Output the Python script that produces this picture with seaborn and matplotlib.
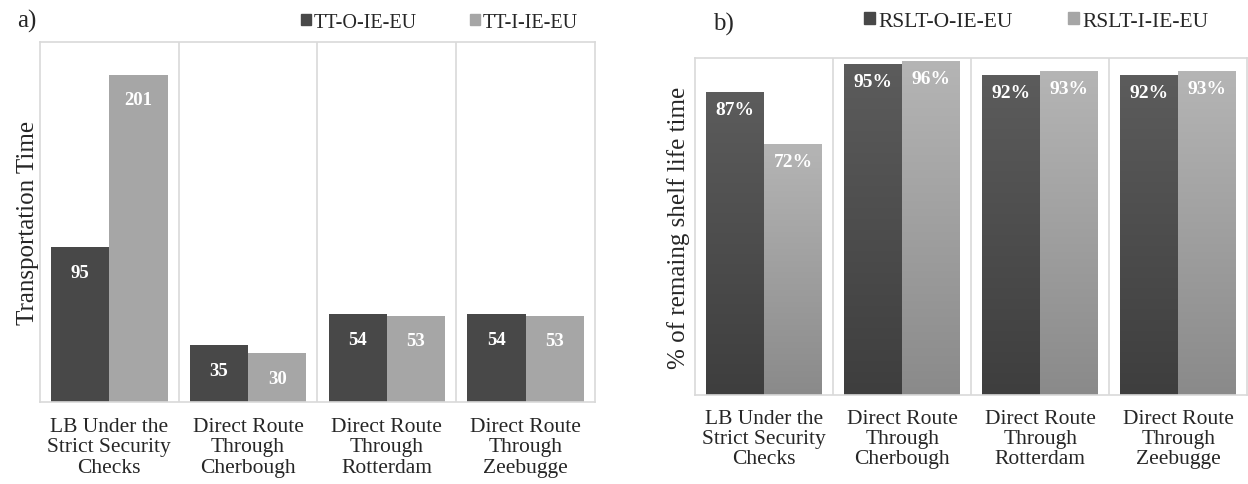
import numpy as np
import pandas as pd
import matplotlib
matplotlib.use('Agg')
import matplotlib.pyplot as plt
import seaborn as sns
from matplotlib.patches import Patch
from matplotlib.colors import LinearSegmentedColormap

sns.set_style('white')
plt.rcParams['font.family'] = ['Liberation Serif', 'DejaVu Serif']

# data
routes = ['LB Under the\nStrict Security\nChecks',
          'Direct Route\nThrough\nCherbough',
          'Direct Route\nThrough\nRotterdam',
          'Direct Route\nThrough\nZeebugge']
tt_series = ['TT-O-IE-EU', 'TT-I-IE-EU']
tt_out = [95, 35, 54, 54]
tt_in = [201, 30, 53, 53]
rslt_series = ['RSLT-O-IE-EU', 'RSLT-I-IE-EU']
rslt_out = [87, 95, 92, 92]
rslt_in = [72, 96, 93, 93]

df_tt = pd.DataFrame({
    'route': routes * 2,
    'series': [tt_series[0]] * 4 + [tt_series[1]] * 4,
    'value': tt_out + tt_in,
})
df_rslt = pd.DataFrame({
    'route': routes * 2,
    'series': [rslt_series[0]] * 4 + [rslt_series[1]] * 4,
    'value': rslt_out + rslt_in,
})

dark = '#484848'
light = '#a6a6a6'
grid_col = '#d9d9d9'

fig = plt.figure(figsize=(12.48, 4.85), dpi=100)
ax1 = fig.add_axes([0.032, 0.169, 0.4447, 0.742])
ax2 = fig.add_axes([0.557, 0.1835, 0.4423, 0.695])


def style_axes(ax, ylab, pad, tpad):
    ax.set_xlim(-0.5, 3.5)
    ax.set_xlabel('')
    ax.set_ylabel(ylab, fontsize=18, labelpad=pad)
    ax.set_yticks([])
    ax.tick_params(axis='x', length=0, labelsize=15.5, pad=tpad)
    for lab in ax.get_xticklabels():
        lab.set_linespacing(1.08)
    for s in ax.spines.values():
        s.set_color(grid_col)
        s.set_linewidth(1.2)
    for xv in [0.5, 1.5, 2.5]:
        ax.axvline(xv, color=grid_col, lw=1.2, zorder=0)


# a) transportation time
sns.barplot(data=df_tt, x='route', y='value', hue='series', ax=ax1,
            palette=[dark, light], width=0.84, saturation=1, legend=False,
            linewidth=0, edgecolor='none')
ax1.set_ylim(0, 221)
style_axes(ax1, 'Transportation Time', 1, 11)
for cont in ax1.containers:
    for bar, v in zip(cont, cont.datavalues):
        ax1.annotate(f'{v:.0f}', (bar.get_x() + bar.get_width() / 2, bar.get_height()),
                     xytext=(0, -12), textcoords='offset points', ha='center', va='top',
                     color='white', fontweight='bold', fontsize=13.5)

# b) remaining shelf life
sns.barplot(data=df_rslt, x='route', y='value', hue='series', ax=ax2,
            palette=[dark, light], width=0.84, saturation=1, legend=False,
            linewidth=0, edgecolor='none')
ax2.set_ylim(0, 97)
style_axes(ax2, '% of remaing shelf life time', 4, 10)

cmaps = [LinearSegmentedColormap.from_list('d', ['#3e3e3e', '#5c5c5c']),
         LinearSegmentedColormap.from_list('l', ['#8a8a8a', '#b5b5b5'])]
grad = np.linspace(0, 1, 256).reshape(-1, 1)
for cont, cm in zip(ax2.containers, cmaps):
    for bar, v in zip(cont, cont.datavalues):
        x0, w, h = bar.get_x(), bar.get_width(), bar.get_height()
        bar.set_alpha(0)
        ax2.imshow(grad, cmap=cm, origin='lower', aspect='auto',
                   extent=[x0, x0 + w, 0, h], zorder=2)
        ax2.annotate(f'{v:.0f}%', (x0 + w / 2, h),
                     xytext=(0, -6), textcoords='offset points', ha='center', va='top',
                     color='white', fontweight='bold', fontsize=14, zorder=3)
ax2.set_xlim(-0.5, 3.5)
ax2.set_ylim(0, 97)

# panel labels and legends
fig.text(0.014, 0.955, 'a)', fontsize=18, va='center')
fig.text(0.571, 0.950, 'b)', fontsize=18, va='center')

fig.legend(handles=[Patch(color=dark, label=tt_series[0]), Patch(color=light, label=tt_series[1])],
           ncol=2, loc='center right', bbox_to_anchor=(0.471, 0.952), frameon=False,
           fontsize=14.5, handlelength=0.5, handleheight=0.5, handletextpad=0.15,
           columnspacing=2.6, borderpad=0)
fig.legend(handles=[Patch(color=dark, label=rslt_series[0]), Patch(color=light, label=rslt_series[1])],
           ncol=2, loc='center right', bbox_to_anchor=(0.977, 0.954), frameon=False,
           fontsize=15.5, handlelength=0.5, handleheight=0.5, handletextpad=0.15,
           columnspacing=2.6, borderpad=0)

fig.savefig('out.png', dpi=100)
